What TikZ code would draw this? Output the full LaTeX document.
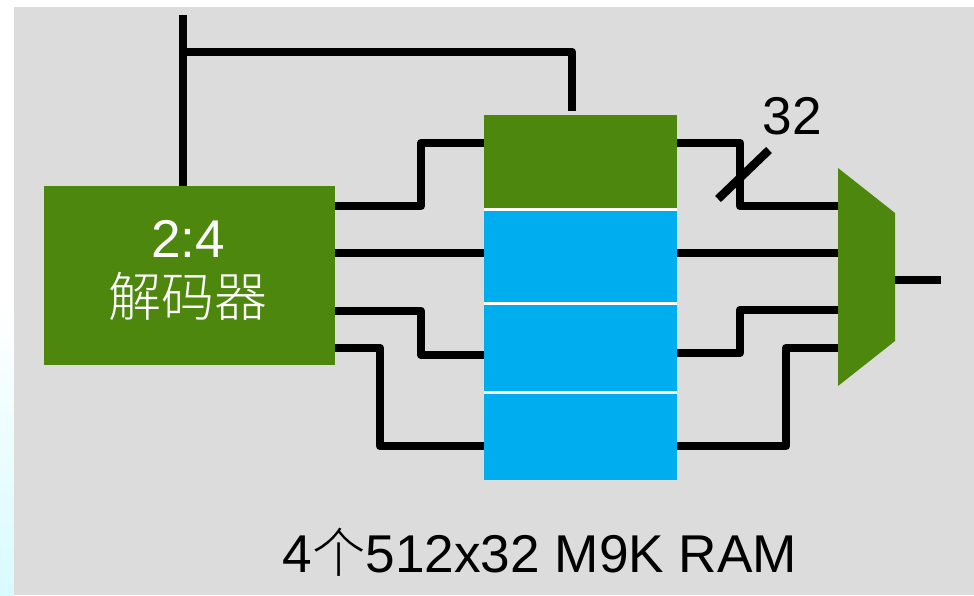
\documentclass[tikz,border=0pt]{standalone}
\usepackage{fontspec}
\setmainfont{Liberation Sans}
\newfontfamily\cjkfont{Noto Sans CJK SC Light}
\usetikzlibrary{calc}
\definecolor{slidegray}{HTML}{DCDCDC}
\definecolor{blockgreen}{HTML}{4E870E}
\definecolor{blockblue}{HTML}{00AEEF}
\definecolor{edgecyan}{HTML}{D8FBFF}
\tikzset{
    wire/.style={black,line width=8.4pt,line join=round},
    block/.style={inner sep=0pt,outer sep=0pt,minimum width=193pt,text=white},
    bigtext/.style={font=\fontsize{53.2}{56}\selectfont,inner sep=0pt}
}

\begin{document}
\begin{tikzpicture}[x=1pt,y=-1pt]
        \useasboundingbox (0,0) rectangle (974,595);
        \fill[white] (0,0) rectangle (974,7);
        \shade[top color=white,bottom color=edgecyan,middle color=white] (0,7) rectangle (14,595);
        \fill[slidegray] (14,7) rectangle (974,595);

        \node[block,fill=blockgreen,minimum width=291pt,minimum height=179pt] (dec) at (189.5,275.5) {};
        \fill[white] (484,208) rectangle (677,394);
        \node[block,fill=blockgreen,minimum height=93pt] (mem0) at (580.5,161.5) {};
        \node[block,fill=blockblue,minimum height=91pt] (mem1) at (580.5,256.5) {};
        \node[block,fill=blockblue,minimum height=86pt] (mem2) at (580.5,348) {};
        \node[block,fill=blockblue,minimum height=86pt] (mem3) at (580.5,437) {};
        \node[block,minimum width=57pt,minimum height=218pt] (mux) at (866.5,277) {};
        \fill[blockgreen] (mux.north west) -- ($(mux.north east)+(0,45)$) -- ($(mux.south east)+(0,-45)$) -- (mux.south west) -- cycle;

        \coordinate (top0) at (183,15);
        \coordinate (out0) at (941,280);

        \draw[wire] (top0) -- (dec.north -| top0);
        \draw[wire] (183,52) -- (572,52) -- (572,111);

        \draw[wire] (dec.east |- 0,206) -- (421,206) -- (421,143) -- (mem0.west |- 0,143);
        \draw[wire] (dec.east |- 0,253) -- (mem1.west |- 0,253);
        \draw[wire] (dec.east |- 0,311) -- (421,311) -- (421,355) -- (mem2.west |- 0,355);
        \draw[wire] (dec.east |- 0,348) -- (380,348) -- (380,446) -- (mem3.west |- 0,446);

        \draw[wire] (mem0.east |- 0,143) -- (740,143) -- (740,206) -- (mux.west |- 0,206);
        \draw[wire] (mem1.east |- 0,253) -- (mux.west |- 0,253);
        \draw[wire] (mem2.east |- 0,353) -- (740,353) -- (740,310) -- (mux.west |- 0,310);
        \draw[wire] (mem3.east |- 0,446) -- (786,446) -- (786,348) -- (mux.west |- 0,348);
        \draw[wire] (mux.east |- out0) -- (out0);

        \draw[wire] (718,199) -- (769,150);
        \node[bigtext] (width) at (792,116) {32};

        \node[bigtext,text=white] (declabel) at (188,239) {2:4};
        \node[inner sep=0pt,text=white,font=\cjkfont\fontsize{53}{56}\selectfont] (decname) at (188,296) {解码器};
        \node[bigtext] (caption) at (540,552) {4{\cjkfont 个}512x32 M9K RAM};
    \end{tikzpicture}
\end{document}
